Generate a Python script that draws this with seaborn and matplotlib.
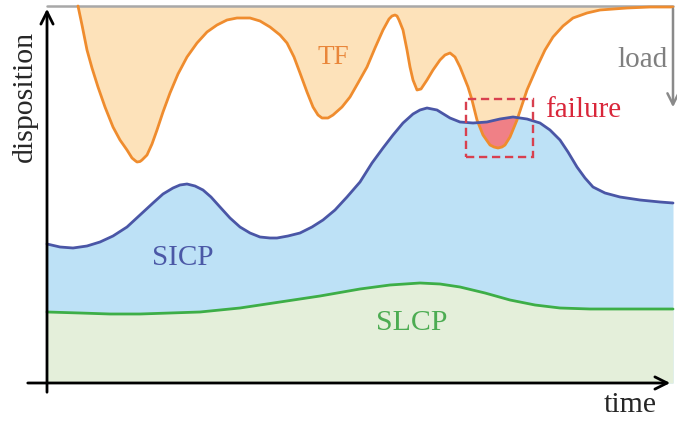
import numpy as np
import matplotlib
matplotlib.use('Agg')
import matplotlib.pyplot as plt
import seaborn as sns
from matplotlib.patches import Rectangle

# time / disposition values (origin at the axes corner)
tf_t = [31, 35, 40, 45, 51, 58, 66, 73, 80, 85, 88, 90, 93, 95, 100, 105, 110, 116, 123, 131, 140, 150,
        160, 170, 180, 190, 203, 213, 223, 233, 240, 247, 253, 260, 266, 271, 275, 281, 286, 295,
        303, 311, 320, 328, 336, 342, 345, 348, 350, 352, 356, 360, 363, 366, 370, 374, 380, 386, 393, 398,
        403, 408, 413, 417, 421, 425, 430, 436, 443, 447, 451, 455, 458, 463, 470, 480, 490, 498, 506, 516,
        526, 540, 553, 580, 603, 626]
tf_d = [377, 358, 333, 315, 296, 276, 256, 243, 233, 225, 222.5, 221, 221.5, 223, 228, 239, 253, 271, 290, 309,
        326, 340, 351, 358, 363, 365, 365, 362, 356, 348, 340, 326, 310, 291, 276, 268, 265, 265,
        268, 276, 286, 300, 316, 335, 353, 364, 367, 368, 367, 363, 353, 333, 316, 303, 293, 294, 303, 313,
        323, 328, 330, 326, 316, 306, 296, 283, 263, 248, 238, 236, 235, 236, 238, 246, 263, 293, 316, 333,
        346, 357, 365, 370, 373, 375, 376, 376]

sicp_t = [0, 13, 26, 40, 53, 66, 80, 93, 106, 116, 126, 133, 140, 148, 156, 164, 173, 183, 193,
          203, 213, 223, 230, 241, 253, 265, 276, 288, 300, 313, 325, 336, 346, 356, 366, 373,
          380, 390, 403, 413, 426, 440, 453, 466, 480, 493, 503, 513, 521, 530, 538, 546, 558,
          573, 593, 613, 626]
sicp_d = [139, 136, 135, 137, 141, 147, 156, 168, 180, 189, 195, 198, 199, 197, 193, 186, 176, 165,
          156, 150, 146, 145, 145, 147, 150, 156, 163, 173, 186, 201, 220, 235, 248, 260, 269, 273,
          275, 273, 265, 261, 260, 261, 264, 266, 264, 260, 253, 243, 231, 216, 205, 196, 190, 186,
          183, 181, 180]

slcp_t = [0, 33, 63, 93, 123, 153, 193, 233, 273, 313, 343, 373, 393, 413, 438, 463, 488, 513,
          543, 580, 626]
slcp_d = [71, 70, 69, 69, 70, 71, 75, 81, 87, 94, 98, 100, 99, 96, 90, 83, 78, 75, 74, 74, 74]

top_d = 377
load_end = 273

sns.set_style('white')
plt.rcParams['font.family'] = ['Liberation Serif', 'DejaVu Serif']

fig = plt.figure(figsize=(6.77, 4.21), dpi=100)
ax = fig.add_axes([0, 0, 1, 1])
ax.set_xlim(-47, 630)
ax.set_ylim(-38, 383)
ax.axis('off')

# areas
sicp_fill = ax.fill_between(sicp_t, sicp_d, 0, color='#bde1f6', lw=0, zorder=1)
ax.fill_between(slcp_t, slcp_d, 0, color='#e4efda', lw=0, zorder=2)
ax.fill_between(tf_t, tf_d, top_d, color='#fde2ba', lw=0, zorder=1)
fail = ax.fill_between(tf_t, tf_d, top_d, color='#f08086', lw=0, zorder=3)
fail.set_clip_path(sicp_fill.get_paths()[0], ax.transData)

# curves
line_kw = dict(lw=2, sort=False, zorder=5, solid_joinstyle='round', solid_capstyle='round')
sns.lineplot(x=tf_t, y=tf_d, ax=ax, color='#ef8c2e', **line_kw)
sns.lineplot(x=sicp_t, y=sicp_d, ax=ax, color='#4a56a6', **line_kw)
sns.lineplot(x=slcp_t, y=slcp_d, ax=ax, color='#3dae47', **line_kw)

# frame lines and arrows
ax.plot([0, 626], [top_d, top_d], color='#a8a8a8', lw=1.8, zorder=4)
ax.annotate('', xy=(0, 377), xytext=(0, -12),
            arrowprops=dict(arrowstyle='->', color='black', lw=2, mutation_scale=22), zorder=6)
ax.annotate('', xy=(626, 0), xytext=(-22, 0),
            arrowprops=dict(arrowstyle='->', color='black', lw=2, mutation_scale=22), zorder=6)
ax.annotate('', xy=(626, load_end), xytext=(626, top_d),
            arrowprops=dict(arrowstyle='->', color='#8a8a8a', lw=1.8, mutation_scale=20), zorder=6)

ax.add_patch(Rectangle((419, 226), 67, 58, fill=False, ls=(0, (3.5, 2)),
                       ec='#d8404f', lw=1.7, zorder=6))

# labels
ax.text(286, 326, 'TF', color='#e9863a', fontsize=19.5, ha='center', va='center', zorder=7)
ax.text(136, 125, 'SICP', color='#4b58a6', fontsize=21, ha='center', va='center', zorder=7)
ax.text(365, 60, 'SLCP', color='#4cac52', fontsize=21.5, ha='center', va='center', zorder=7)
ax.text(536, 273, 'failure', color='#d9263a', fontsize=21, ha='center', va='center', zorder=7)
ax.text(596, 323, 'load', color='#7f7f7f', fontsize=21, ha='center', va='center', zorder=7)
ax.text(-22, 287, 'disposition', fontsize=21.5, rotation=90, ha='center', va='center', zorder=7)
ax.text(583, -22, 'time', fontsize=21.5, ha='center', va='center', zorder=7)

fig.savefig('out.png', dpi=100)
